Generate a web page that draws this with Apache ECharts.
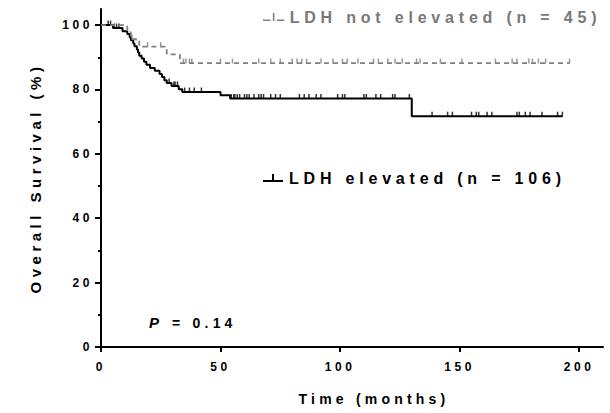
<!DOCTYPE html>
<html><head><meta charset="utf-8">
<script src="https://cdn.jsdelivr.net/npm/echarts@6/dist/echarts.min.js"></script>
<style>
html,body{margin:0;padding:0;background:#fff}
#chart{width:610px;height:413px}
#chart text{letter-spacing:0.3em}
</style>
</head><body><div id="chart"></div>
<script>
// ---- data ----
const elevatedName = 'LDH elevated (n = 106)';
const notElevatedName = 'LDH not elevated (n = 45)';

const elevatedStepTimes  = [0, 5, 9, 11, 12, 12.5, 13.5, 14, 15, 15.5, 16, 17, 18, 19, 20.5, 22.5, 24.5, 25.5, 26.5, 27.5, 29.5, 32.5, 34, 50, 54, 130];
const elevatedStepValues = [100, 99.1, 98.1, 97.2, 96.2, 95.3, 94.3, 93.4, 92.4, 91.5, 90.5, 89.6, 88.6, 87.7, 86.7, 85.8, 84.8, 83.9, 82.9, 82.0, 81.1, 80.1, 79.2, 78.2, 77.2, 71.7];
const elevatedEnd = 193;
const elevatedCensored = [3, 4, 5.5, 6.5, 7.5, 28.5, 30.5, 31, 32, 35, 37, 39, 42, 54.5, 55.5, 56, 57, 58, 60, 61, 62, 64, 66, 67, 68, 71, 73, 75, 83, 85, 87, 90, 92, 99, 101, 102, 110, 111, 115, 117, 122, 123, 129, 138.5, 145, 147, 155, 157, 158, 161.5, 163.5, 174, 175, 177.5, 179.5, 184.5, 191, 193];

const notElevatedStepTimes  = [0, 11, 12.5, 16, 27.5, 33];
const notElevatedStepValues = [100, 97.8, 95.6, 93.3, 90.9, 88.2];
const notElevatedEnd = 196;
const notElevatedCensored = [13, 19.5, 25, 34.5, 35.5, 37, 38, 50, 55, 66, 71, 75, 80, 82, 84, 86, 92, 97, 101, 103, 107.5, 114, 116, 120, 123, 126, 132, 133.5, 142, 151, 165, 172, 174, 179, 180.5, 183, 186, 196];

const xTicks = [0, 50, 100, 150, 200];
const yTicks = [0, 20, 40, 60, 80, 100];
const yMinorTicks = [10, 30, 50, 70, 90];
const pValueText = '{i|P} = 0.14';

// ---- helpers ----
function stepData(times, values, end) {
  const d = times.map((t, i) => [t, values[i]]);
  d.push([end, values[values.length - 1]]);
  return d;
}
function survAt(times, values, t) {
  let v = values[0];
  for (let i = 0; i < times.length; i++) { if (times[i] <= t) v = values[i]; }
  return v;
}
function censorData(times, values, cens) {
  return cens.map(t => [t, survAt(times, values, t)]);
}

const FONT = "'Liberation Sans', Arial, Helvetica, sans-serif";
const BLACK = '#000000';
const GRAY = '#808080';

const chart = echarts.init(document.getElementById('chart'), null, {renderer: 'svg'});
chart.setOption({
  animation: false,
  backgroundColor: '#ffffff',
  grid: {left: 101, right: 7, top: 9, bottom: 66, outerBoundsMode: 'none'},
  title: {
    text: pValueText, left: 144, top: 310,
    textStyle: {
      fontFamily: FONT, fontSize: 14, fontWeight: 'bold', color: BLACK,
      rich: {i: {fontFamily: FONT, fontSize: 15, fontWeight: 'bold', fontStyle: 'italic', color: BLACK, padding: [0, 5, 0, 0]}}
    }
  },
  legend: [
    {
      data: [{name: notElevatedName, itemStyle: {color: GRAY, borderWidth: 0}}],
      left: 258, top: 4, itemWidth: 22, itemHeight: 8, selectedMode: false,
      icon: 'path://M0,6h7v1.5h-7z M9.25,0h1.5v7.5h-1.5z M13,6h7v1.5h-7z',
      textStyle: {fontFamily: FONT, fontSize: 16, fontWeight: 'bold', color: '#787878'}
    },
    {
      data: [{name: elevatedName, itemStyle: {color: BLACK, borderWidth: 0}}],
      left: 258, top: 165, itemWidth: 22, itemHeight: 8, selectedMode: false,
      icon: 'path://M0,6h20v2h-20z M9,0h2v6h-2z',
      textStyle: {fontFamily: FONT, fontSize: 16, fontWeight: 'bold', color: BLACK}
    }
  ],
  xAxis: {
    type: 'value', min: 0, max: 210,
    name: 'Time (months)', nameLocation: 'middle', nameGap: 45,
    nameTextStyle: {fontFamily: FONT, fontSize: 14, fontWeight: 'bold', color: BLACK, padding: [0, 0, 0, 44]},
    axisLine: {show: true, onZero: false, lineStyle: {color: BLACK, width: 2}},
    axisTick: {show: true, customValues: xTicks, length: 5, lineStyle: {color: BLACK, width: 2}},
    axisLabel: {customValues: xTicks, margin: 14, fontFamily: FONT, fontSize: 12, fontWeight: 'bold', color: BLACK},
    splitLine: {show: false}
  },
  yAxis: [
    {
      type: 'value', min: 0, max: 105,
      name: 'Overall Survival (%)', nameLocation: 'middle', nameGap: 58,
      nameTextStyle: {fontFamily: FONT, fontSize: 15, fontWeight: 'bold', color: BLACK},
      axisLine: {show: true, onZero: false, lineStyle: {color: BLACK, width: 2}},
      axisTick: {show: true, customValues: yTicks, length: 6, lineStyle: {color: BLACK, width: 2}},
      axisLabel: {customValues: yTicks, margin: 8, fontFamily: FONT, fontSize: 12, fontWeight: 'bold', color: BLACK},
      splitLine: {show: false}
    },
    {
      type: 'value', min: 0, max: 105, position: 'left',
      axisLine: {show: false},
      axisTick: {show: true, customValues: yMinorTicks, length: 3, lineStyle: {color: BLACK, width: 2}},
      axisLabel: {show: false},
      splitLine: {show: false}
    }
  ],
  series: [
    {
      name: notElevatedName, type: 'line', step: 'end', symbol: 'none', z: 3,
      data: stepData(notElevatedStepTimes, notElevatedStepValues, notElevatedEnd),
      itemStyle: {color: GRAY},
      lineStyle: {color: GRAY, width: 1.8, type: [5, 4]}
    },
    {
      name: elevatedName, type: 'line', step: 'end', symbol: 'none', z: 2,
      data: stepData(elevatedStepTimes, elevatedStepValues, elevatedEnd),
      itemStyle: {color: BLACK},
      lineStyle: {color: BLACK, width: 2}
    },
    {
      name: 'censor-not-elevated', type: 'scatter', z: 3,
      symbol: 'rect', symbolSize: [1.5, 5], symbolOffset: [0, -2],
      data: censorData(notElevatedStepTimes, notElevatedStepValues, notElevatedCensored),
      itemStyle: {color: GRAY}
    },
    {
      name: 'censor-elevated', type: 'scatter', z: 2,
      symbol: 'rect', symbolSize: [1.5, 5], symbolOffset: [0, -2],
      data: censorData(elevatedStepTimes, elevatedStepValues, elevatedCensored),
      itemStyle: {color: BLACK}
    }
  ]
});
</script>
</body></html>
